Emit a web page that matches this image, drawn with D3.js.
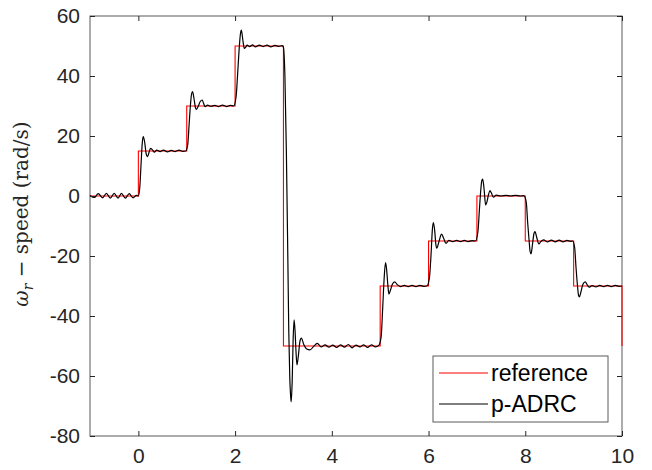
<!DOCTYPE html>
<html>
<head>
<meta charset="utf-8">
<script src="https://cdn.jsdelivr.net/npm/d3@7"></script>
<style>
body { margin: 0; background: #fff; }
svg { display: block; }
.tick text { font-family: "Liberation Sans", Arial, sans-serif; font-size: 21px; fill: #262626; }
</style>
</head>
<body>
<div class="visHolder"></div>
<script>
// reference step signal
const refT = [-1, 0, 1, 2, 3, 5, 6, 7, 8, 9, 10];
const refY = [0, 15, 30, 50, -50, -30, -15, 0, -15, -30, -50];

// p-ADRC response
const adrcT = [-1, -0.91, -0.83, -0.74, -0.66, -0.58, -0.5, -0.42, -0.35, -0.27, -0.19, -0.11, -0.04, 0,
  0.03, 0.06, 0.08, 0.1, 0.13, 0.16, 0.19, 0.22, 0.25, 0.29, 0.33, 0.38, 0.45, 0.52, 0.6, 0.68, 0.76, 0.84, 0.92, 0.98,
  1.02, 1.05, 1.08, 1.1, 1.12, 1.15, 1.18, 1.2, 1.24, 1.28, 1.32, 1.35, 1.38, 1.43, 1.5, 1.58, 1.66, 1.74, 1.82, 1.9, 1.97,
  2.02, 2.05, 2.08, 2.11, 2.13, 2.16, 2.19, 2.22, 2.25, 2.3, 2.36, 2.42, 2.5, 2.58, 2.66, 2.74, 2.82, 2.9, 2.97,
  3.0, 3.03, 3.06, 3.09, 3.11, 3.13, 3.15, 3.16, 3.18, 3.2, 3.22, 3.24, 3.26, 3.28, 3.31, 3.34, 3.37, 3.42, 3.48, 3.55, 3.62, 3.7, 3.78, 3.86, 3.94, 4.02, 4.1, 4.18, 4.26, 4.34, 4.42, 4.5, 4.58, 4.66, 4.74, 4.82, 4.9, 4.97,
  5.02, 5.05, 5.08, 5.11, 5.13, 5.16, 5.18, 5.21, 5.25, 5.3, 5.35, 5.42, 5.5, 5.58, 5.66, 5.74, 5.82, 5.9, 5.97,
  6.02, 6.05, 6.08, 6.1, 6.13, 6.15, 6.17, 6.21, 6.27, 6.31, 6.36, 6.42, 6.5, 6.58, 6.66, 6.74, 6.82, 6.9, 6.97,
  7.02, 7.05, 7.08, 7.1, 7.12, 7.15, 7.18, 7.21, 7.24, 7.27, 7.3, 7.34, 7.4, 7.5, 7.6, 7.7, 7.8, 7.9, 7.97,
  8.02, 8.05, 8.08, 8.1, 8.12, 8.15, 8.18, 8.2, 8.24, 8.28, 8.32, 8.38, 8.46, 8.54, 8.62, 8.7, 8.78, 8.86, 8.94, 8.98,
  9.02, 9.05, 9.08, 9.1, 9.12, 9.15, 9.19, 9.24, 9.28, 9.32, 9.38, 9.46, 9.54, 9.62, 9.7, 9.78, 9.86, 9.94, 10];
const adrcY = [0.2, -0.5, 0.8, -0.6, 0.9, -0.7, 0.9, -0.7, 0.9, -0.7, 0.8, -0.6, 0.2, 0,
  3, 12, 17.5, 19.8, 18, 14.2, 13.1, 14.5, 15.9, 15.4, 14.6, 15.3, 14.8, 15.3, 14.7, 15.2, 14.8, 15.3, 14.9, 15,
  17, 24, 31, 34, 34.8, 32.5, 29.5, 28.9, 30, 31.5, 32, 30.8, 29.8, 30.3, 29.9, 30.2, 29.8, 30.3, 29.8, 30.2, 30,
  33, 40, 48, 54, 55.3, 52, 49.2, 49.6, 50.3, 49.8, 50.4, 49.7, 50.3, 49.8, 50.3, 49.7, 50.2, 49.9, 50.1,
  49.5, 40, 15, -20, -45, -60, -67, -68.6, -62, -48, -41.3, -45, -52, -56.3, -53, -48.5, -47.4, -49.5, -51, -51.3, -50.2, -49.1, -50.3, -49.6, -50.4, -49.7, -50.5, -49.6, -50.4, -49.5, -50.6, -49.7, -50.3, -49.6, -50.5, -49.6, -50.3, -49.8,
  -47, -38, -28, -22.2, -24, -30, -32.7, -31.5, -29.5, -28.6, -29.5, -30.2, -29.8, -30.2, -29.8, -30.2, -29.8, -30.1, -29.9,
  -27, -20, -11, -8.9, -12, -16, -17.4, -15.5, -12.7, -14, -15.8, -14.8, -15.2, -14.8, -15.2, -14.8, -15.2, -14.9, -15,
  -12, -5, 2, 5, 5.6, 2, -3, -1.8, 0.5, 1.8, 1, -0.4, 0.3, 0, 0.2, 0, 0.2, 0, 0.1,
  -2, -9, -15, -18.5, -19.3, -16, -12.5, -11.9, -14, -16, -15.2, -14.6, -15.3, -14.7, -15.3, -14.7, -15.3, -14.8, -15.1, -15,
  -17, -24, -30, -33, -33.6, -32, -29.5, -28.6, -29.6, -30.4, -29.9, -30.3, -29.8, -30.2, -29.8, -30.2, -29.8, -30.1, -30];

const xTicks = [0, 2, 4, 6, 8, 10];
const yTicks = [-80, -60, -40, -20, 0, 20, 40, 60];
const seriesNames = ['reference', 'p-ADRC'];

const W = 652, H = 470;
const pLeft = 90, pRight = 622, pTop = 16, pBottom = 436;

const svg = d3.select('.visHolder').append('svg').attr('width', W).attr('height', H);

const x = d3.scaleLinear().domain([-1, 10]).range([pLeft, pRight]);
const y = d3.scaleLinear().domain([-80, 60]).range([pBottom, pTop]);

// box first, lines go over it
svg.append('rect').attr('x', pLeft).attr('y', pTop).attr('width', pRight - pLeft).attr('height', pBottom - pTop)
  .attr('fill', 'none').attr('stroke', '#5a5a5a').attr('stroke-width', 1);

// clip (a bit wider so the last red drop at x=10 shows)
svg.append('clipPath').attr('id', 'clip').append('rect')
  .attr('x', pLeft - 1).attr('y', pTop - 1).attr('width', pRight - pLeft + 2).attr('height', pBottom - pTop + 2);

// lines
const refLine = d3.line().x((d) => x(d[0])).y((d) => y(d[1])).curve(d3.curveStepAfter);
const adrcLine = d3.line().x((d) => x(d[0])).y((d) => y(d[1])).curve(d3.curveMonotoneX);

svg.append('path').datum(refT.map((t, i) => [t, refY[i]]))
  .attr('d', refLine).attr('fill', 'none').attr('stroke', '#ff0000').attr('stroke-width', 1.1)
  .attr('clip-path', 'url(#clip)');
svg.append('path').datum(adrcT.map((t, i) => [t, adrcY[i]]))
  .attr('d', adrcLine).attr('fill', 'none').attr('stroke', '#000').attr('stroke-width', 1.2)
  .attr('clip-path', 'url(#clip)');

// axes, ticks inward on all four sides
const tk = 5;
const fmt = (d) => String(d);
const gx = svg.append('g').attr('transform', 'translate(0,' + pBottom + ')')
  .call(d3.axisBottom(x).tickValues(xTicks).tickSize(-tk).tickPadding(12).tickFormat(fmt));
const gxTop = svg.append('g').attr('transform', 'translate(0,' + pTop + ')')
  .call(d3.axisTop(x).tickValues(xTicks).tickSize(-tk).tickFormat(''));
const gy = svg.append('g').attr('transform', 'translate(' + pLeft + ',0)')
  .call(d3.axisLeft(y).tickValues(yTicks).tickSize(-tk).tickPadding(10).tickFormat(fmt));
const gyRight = svg.append('g').attr('transform', 'translate(' + pRight + ',0)')
  .call(d3.axisRight(y).tickValues(yTicks).tickSize(-tk).tickFormat(''));
[gx, gxTop, gy, gyRight].forEach((g) => {
  g.select('.domain').remove();
  g.selectAll('.tick line').attr('stroke', '#262626');
});

// y label
const yl = svg.append('text')
  .attr('transform', 'translate(28,' + ((pTop + pBottom) / 2 - 12) + ') rotate(-90)')
  .attr('text-anchor', 'middle')
  .style('font-family', '"DejaVu Serif", "Liberation Serif", serif')
  .style('font-size', '20px').attr('fill', '#262626');
yl.append('tspan').style('font-style', 'italic').text('ω');
yl.append('tspan').style('font-style', 'italic').style('font-size', '14px').attr('dy', 5).text('r');
yl.append('tspan').attr('dy', -5).text(' − speed (rad/s)');

// legend
const lg = svg.append('g').attr('transform', 'translate(433,356)');
lg.append('rect').attr('width', 175).attr('height', 66).attr('fill', '#fff')
  .attr('stroke', '#5a5a5a').attr('stroke-width', 1);
const colors = ['#ff0000', '#000'];
seriesNames.forEach((name, i) => {
  const yy = 17 + i * 31;
  lg.append('line').attr('x1', 6).attr('x2', 55).attr('y1', yy).attr('y2', yy)
    .attr('stroke', colors[i]).attr('stroke-width', 1.1);
  lg.append('text').attr('x', 58).attr('y', yy + 8).text(name)
    .style('font-family', '"Liberation Sans", Arial, sans-serif').style('font-size', '23px').attr('fill', '#000');
});
</script>
</body>
</html>
